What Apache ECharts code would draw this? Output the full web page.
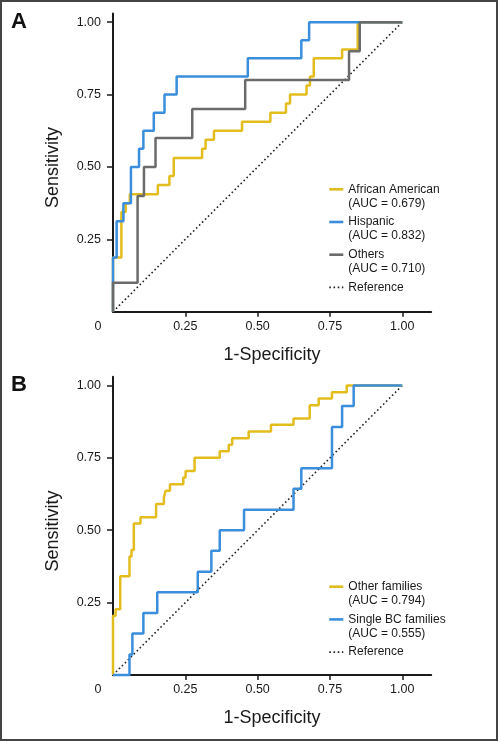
<!DOCTYPE html>
<html><head><meta charset="utf-8">
<script src="https://cdn.jsdelivr.net/npm/echarts@6/dist/echarts.min.js"></script>
<style>html,body{margin:0;padding:0;background:#fff}#c{width:500px;height:742px}</style>
</head><body><div id="c"></div>
<script>
// ---------- data ----------
const tickValues = [0.25, 0.5, 0.75, 1.0];
// Panel A
const aaX = [0, 0, 0.029, 0.044, 0.058, 0.155, 0.195, 0.210, 0.308, 0.320, 0.349, 0.446, 0.544, 0.598, 0.612, 0.669, 0.681, 0.694, 0.792, 0.846, 1.0];
const aaY = [0, 0.1875, 0.344, 0.375, 0.406, 0.4375, 0.469, 0.531, 0.5625, 0.594, 0.625, 0.656, 0.6875, 0.719, 0.75, 0.781, 0.8125, 0.875, 0.906, 1.0, 1.0];
const hispX = [0, 0, 0.0126, 0.036, 0.062, 0.090, 0.105, 0.141, 0.178, 0.220, 0.466, 0.651, 0.678, 1.0];
const hispY = [0, 0.1875, 0.3125, 0.375, 0.5, 0.5625, 0.625, 0.6875, 0.75, 0.8125, 0.875, 0.9375, 1.0, 1.0];
const othX = [0, 0, 0.085, 0.107, 0.147, 0.274, 0.457, 0.816, 0.853, 1.0];
const othY = [0, 0.1, 0.4, 0.5, 0.6, 0.7, 0.8, 0.9, 1.0, 1.0];
// Panel B
const ofX = [0, 0, 0.009, 0.025, 0.057, 0.064, 0.072, 0.095, 0.149, 0.176, 0.182, 0.197, 0.243, 0.251, 0.282, 0.369, 0.400, 0.412, 0.469, 0.546, 0.624, 0.680, 0.711, 0.757, 0.808, 1.0];
const ofY = [0, 0.2045, 0.227, 0.341, 0.409, 0.432, 0.523, 0.545, 0.591, 0.614, 0.636, 0.659, 0.682, 0.705, 0.75, 0.773, 0.795, 0.818, 0.841, 0.864, 0.886, 0.932, 0.955, 0.977, 1.0, 1.0];
const sbX = [0, 0.057, 0.067, 0.105, 0.153, 0.293, 0.340, 0.369, 0.453, 0.624, 0.651, 0.757, 0.792, 0.832, 1.0];
const sbY = [0, 0.071, 0.143, 0.214, 0.286, 0.357, 0.429, 0.5, 0.571, 0.643, 0.714, 0.857, 0.929, 1.0, 1.0];
// Reference diagonal
const refX = [0, 1];
const refY = [0, 1];
// Legend labels
const namesA = ['African American', 'Hispanic', 'Others', 'Reference'];
const aucA = ['(AUC = 0.679)', '(AUC = 0.832)', '(AUC = 0.710)', ' '];
const namesB = ['Other families', 'Single BC families', 'Reference'];
const aucB = ['(AUC = 0.794)', '(AUC = 0.555)', ' '];

// ---------- styling ----------
const FONT = 'Liberation Sans, Arial, sans-serif';
const INK = '#1a1a1a';
const YEL = '#E3BD1D', BLU = '#3A8EDC', GRY = '#6B6B6B';
const zip = (xs, ys) => xs.map((x, i) => [x, ys[i]]);

function xAxisCfg(gi) {
  return {
    type: 'value', gridIndex: gi, min: 0, max: 1.10,
    axisLine: { lineStyle: { color: INK, width: 2 } },
    axisTick: { customValues: tickValues, length: 5, lineStyle: { color: INK, width: 1.5 } },
    axisLabel: {
      customValues: [0].concat(tickValues), margin: 8, fontSize: 12.5, color: INK, fontFamily: FONT,
      formatter: v => v === 0 ? '{z|0}' : v.toFixed(2),
      rich: { z: { padding: [0, 30, 0, 0], fontSize: 12.5, color: INK, fontFamily: FONT } }
    },
    splitLine: { show: false },
    name: '1-Specificity', nameLocation: 'middle', nameGap: 34,
    nameTextStyle: { fontSize: 18, color: INK, fontFamily: FONT }
  };
}
function yAxisCfg(gi) {
  return {
    type: 'value', gridIndex: gi, min: 0, max: 1.03,
    axisLine: { show: true, lineStyle: { color: INK, width: 2 } },
    axisTick: { show: true, customValues: tickValues, length: 6, lineStyle: { color: INK, width: 1.5 } },
    axisLabel: { customValues: tickValues, margin: 12, fontSize: 12.5, color: INK, fontFamily: FONT,
      formatter: v => v.toFixed(2) },
    splitLine: { show: false },
    name: 'Sensitivity', nameLocation: 'middle', nameGap: 51,
    nameTextStyle: { fontSize: 18, color: INK, fontFamily: FONT, padding: [0, 10, 0, 0] }
  };
}
function lineSeries(name, xs, ys, color, gi, dotted) {
  return {
    type: 'line', name, xAxisIndex: gi, yAxisIndex: gi,
    data: zip(xs, ys), step: dotted ? false : 'end', symbol: 'none', clip: false,
    lineStyle: dotted ? { color: '#222', width: 1.6, type: [1.6, 2.6] } : { color, width: 2.5 },
    itemStyle: { color: dotted ? '#222' : color },
    emphasis: { disabled: true }, animation: false
  };
}
function legendCfg(names, aucs, top) {
  return {
    orient: 'vertical', left: 328, top, padding: 0, itemGap: -9.3,
    itemWidth: 14, itemHeight: 14, selectedMode: false,
    itemStyle: { opacity: 0, borderWidth: 0 },
    data: names.map(n => ({ name: n, lineStyle: { width: n === 'Reference' ? 1.6 : 2.6 } })),
    // blank first line keeps the series name on the icon's centre line
    formatter: n => ' \n' + n + '\n' + aucs[names.indexOf(n)],
    textStyle: { fontSize: 12, lineHeight: 14, color: INK, fontFamily: FONT }
  };
}

const option = {
  backgroundColor: '#fff',
  animation: false,
  title: [
    { text: 'A', left: 11, top: 11, padding: 0, textStyle: { fontSize: 22, fontWeight: 'bold', color: '#111', fontFamily: FONT } },
    { text: 'B', left: 11, top: 374, padding: 0, textStyle: { fontSize: 22, fontWeight: 'bold', color: '#111', fontFamily: FONT } }
  ],
  grid: [
    { left: 113, top: 13.5, width: 318.2, height: 298.2 },
    { left: 113, top: 376.8, width: 318.2, height: 298.2 }
  ],
  xAxis: [xAxisCfg(0), xAxisCfg(1)],
  yAxis: [yAxisCfg(0), yAxisCfg(1)],
  legend: [legendCfg(namesA, aucA, 168.3), legendCfg(namesB, aucB, 565.7)],
  series: [
    lineSeries('Reference', refX, refY, '#222', 0, true),
    lineSeries('African American', aaX, aaY, YEL, 0),
    lineSeries('Hispanic', hispX, hispY, BLU, 0),
    lineSeries('Others', othX, othY, GRY, 0),
    lineSeries('Reference', refX, refY, '#222', 1, true),
    lineSeries('Other families', ofX, ofY, YEL, 1),
    lineSeries('Single BC families', sbX, sbY, BLU, 1)
  ],
  graphic: [{
    type: 'rect', silent: true, z: 100,
    shape: { x: 1, y: 1, width: 496, height: 739 },
    style: { fill: 'none', stroke: '#444', lineWidth: 2 }
  }]
};
const chart = echarts.init(document.getElementById('c'), null, { renderer: 'canvas' });
chart.setOption(option);
</script></body></html>
